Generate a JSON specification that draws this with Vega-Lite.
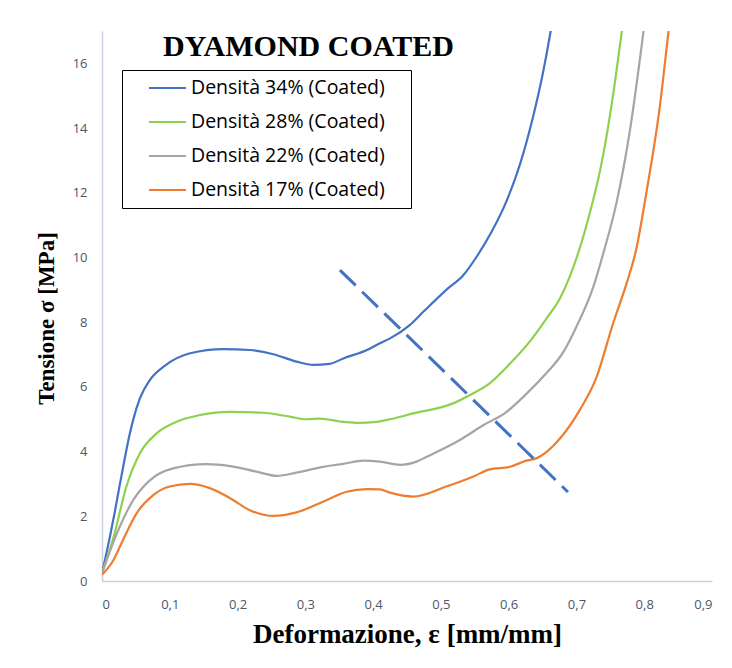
{
  "$schema": "https://vega.github.io/schema/vega-lite/v6.json",
  "width": 610,
  "height": 550,
  "autosize": {"type": "none"},
  "padding": {"left": 102, "top": 31, "right": 20, "bottom": 87},
  "background": "white",
  "config": {"view": {"stroke": null}, "legend": {"strokeWidth": 1}},
  "title": {
    "text": "DYAMOND COATED",
    "anchor": "start",
    "frame": "group",
    "dx": 61,
    "dy": 31,
    "offset": 0,
    "font": "Liberation Serif",
    "fontSize": 30,
    "fontWeight": "bold",
    "color": "#000000"
  },
  "datasets": {
    "curves": [
      {"serie": "Densità 34% (Coated)", "x": 0, "y": 0.24},
      {"serie": "Densità 34% (Coated)", "x": 0.0044, "y": 0.65},
      {"serie": "Densità 34% (Coated)", "x": 0.012, "y": 1.4},
      {"serie": "Densità 34% (Coated)", "x": 0.019, "y": 2.15},
      {"serie": "Densità 34% (Coated)", "x": 0.026, "y": 2.95},
      {"serie": "Densità 34% (Coated)", "x": 0.031, "y": 3.5},
      {"serie": "Densità 34% (Coated)", "x": 0.036, "y": 4.05},
      {"serie": "Densità 34% (Coated)", "x": 0.041, "y": 4.55},
      {"serie": "Densità 34% (Coated)", "x": 0.046, "y": 4.98},
      {"serie": "Densità 34% (Coated)", "x": 0.056, "y": 5.65},
      {"serie": "Densità 34% (Coated)", "x": 0.0708, "y": 6.22},
      {"serie": "Densità 34% (Coated)", "x": 0.093, "y": 6.66},
      {"serie": "Densità 34% (Coated)", "x": 0.13, "y": 7.04},
      {"serie": "Densità 34% (Coated)", "x": 0.179, "y": 7.17},
      {"serie": "Densità 34% (Coated)", "x": 0.218, "y": 7.14},
      {"serie": "Densità 34% (Coated)", "x": 0.253, "y": 7.01},
      {"serie": "Densità 34% (Coated)", "x": 0.287, "y": 6.78},
      {"serie": "Densità 34% (Coated)", "x": 0.312, "y": 6.68},
      {"serie": "Densità 34% (Coated)", "x": 0.336, "y": 6.71},
      {"serie": "Densità 34% (Coated)", "x": 0.356, "y": 6.88},
      {"serie": "Densità 34% (Coated)", "x": 0.391, "y": 7.14},
      {"serie": "Densità 34% (Coated)", "x": 0.41, "y": 7.35},
      {"serie": "Densità 34% (Coated)", "x": 0.425, "y": 7.5},
      {"serie": "Densità 34% (Coated)", "x": 0.454, "y": 7.91},
      {"serie": "Densità 34% (Coated)", "x": 0.474, "y": 8.32},
      {"serie": "Densità 34% (Coated)", "x": 0.508, "y": 9.0},
      {"serie": "Densità 34% (Coated)", "x": 0.533, "y": 9.45},
      {"serie": "Densità 34% (Coated)", "x": 0.553, "y": 10.03},
      {"serie": "Densità 34% (Coated)", "x": 0.575, "y": 10.8},
      {"serie": "Densità 34% (Coated)", "x": 0.597, "y": 11.75},
      {"serie": "Densità 34% (Coated)", "x": 0.617, "y": 12.9},
      {"serie": "Densità 34% (Coated)", "x": 0.636, "y": 14.35},
      {"serie": "Densità 34% (Coated)", "x": 0.651, "y": 15.75},
      {"serie": "Densità 34% (Coated)", "x": 0.662, "y": 17.0},
      {"serie": "Densità 34% (Coated)", "x": 0.67, "y": 18.0},
      {"serie": "Densità 28% (Coated)", "x": 0, "y": 0.24},
      {"serie": "Densità 28% (Coated)", "x": 0.017, "y": 1.35},
      {"serie": "Densità 28% (Coated)", "x": 0.036, "y": 2.92},
      {"serie": "Densità 28% (Coated)", "x": 0.056, "y": 3.95},
      {"serie": "Densità 28% (Coated)", "x": 0.081, "y": 4.57},
      {"serie": "Densità 28% (Coated)", "x": 0.11, "y": 4.92},
      {"serie": "Densità 28% (Coated)", "x": 0.145, "y": 5.13},
      {"serie": "Densità 28% (Coated)", "x": 0.189, "y": 5.23},
      {"serie": "Densità 28% (Coated)", "x": 0.238, "y": 5.2},
      {"serie": "Densità 28% (Coated)", "x": 0.277, "y": 5.08},
      {"serie": "Densità 28% (Coated)", "x": 0.302, "y": 5.0},
      {"serie": "Densità 28% (Coated)", "x": 0.322, "y": 5.02},
      {"serie": "Densità 28% (Coated)", "x": 0.351, "y": 4.93},
      {"serie": "Densità 28% (Coated)", "x": 0.376, "y": 4.89},
      {"serie": "Densità 28% (Coated)", "x": 0.405, "y": 4.92},
      {"serie": "Densità 28% (Coated)", "x": 0.425, "y": 5.0},
      {"serie": "Densità 28% (Coated)", "x": 0.459, "y": 5.18},
      {"serie": "Densità 28% (Coated)", "x": 0.518, "y": 5.49},
      {"serie": "Densità 28% (Coated)", "x": 0.543, "y": 5.75},
      {"serie": "Densità 28% (Coated)", "x": 0.572, "y": 6.11},
      {"serie": "Densità 28% (Coated)", "x": 0.607, "y": 6.83},
      {"serie": "Densità 28% (Coated)", "x": 0.631, "y": 7.4},
      {"serie": "Densità 28% (Coated)", "x": 0.656, "y": 8.12},
      {"serie": "Densità 28% (Coated)", "x": 0.676, "y": 8.75},
      {"serie": "Densità 28% (Coated)", "x": 0.69, "y": 9.4},
      {"serie": "Densità 28% (Coated)", "x": 0.704, "y": 10.23},
      {"serie": "Densità 28% (Coated)", "x": 0.72, "y": 11.4},
      {"serie": "Densità 28% (Coated)", "x": 0.735, "y": 12.7},
      {"serie": "Densità 28% (Coated)", "x": 0.748, "y": 14.2},
      {"serie": "Densità 28% (Coated)", "x": 0.758, "y": 15.6},
      {"serie": "Densità 28% (Coated)", "x": 0.767, "y": 17.0},
      {"serie": "Densità 28% (Coated)", "x": 0.773, "y": 18.0},
      {"serie": "Densità 22% (Coated)", "x": 0, "y": 0.24},
      {"serie": "Densità 22% (Coated)", "x": 0.022, "y": 1.47},
      {"serie": "Densità 22% (Coated)", "x": 0.046, "y": 2.5},
      {"serie": "Densità 22% (Coated)", "x": 0.071, "y": 3.12},
      {"serie": "Densità 22% (Coated)", "x": 0.105, "y": 3.48},
      {"serie": "Densità 22% (Coated)", "x": 0.154, "y": 3.61},
      {"serie": "Densità 22% (Coated)", "x": 0.189, "y": 3.55},
      {"serie": "Densità 22% (Coated)", "x": 0.228, "y": 3.38},
      {"serie": "Densità 22% (Coated)", "x": 0.258, "y": 3.25},
      {"serie": "Densità 22% (Coated)", "x": 0.287, "y": 3.35},
      {"serie": "Densità 22% (Coated)", "x": 0.326, "y": 3.53},
      {"serie": "Densità 22% (Coated)", "x": 0.356, "y": 3.62},
      {"serie": "Densità 22% (Coated)", "x": 0.386, "y": 3.72},
      {"serie": "Densità 22% (Coated)", "x": 0.41, "y": 3.69},
      {"serie": "Densità 22% (Coated)", "x": 0.44, "y": 3.59},
      {"serie": "Densità 22% (Coated)", "x": 0.464, "y": 3.69},
      {"serie": "Densità 22% (Coated)", "x": 0.479, "y": 3.84},
      {"serie": "Densità 22% (Coated)", "x": 0.528, "y": 4.36},
      {"serie": "Densità 22% (Coated)", "x": 0.563, "y": 4.82},
      {"serie": "Densità 22% (Coated)", "x": 0.597, "y": 5.23},
      {"serie": "Densità 22% (Coated)", "x": 0.622, "y": 5.7},
      {"serie": "Densità 22% (Coated)", "x": 0.651, "y": 6.32},
      {"serie": "Densità 22% (Coated)", "x": 0.681, "y": 7.09},
      {"serie": "Densità 22% (Coated)", "x": 0.7, "y": 7.86},
      {"serie": "Densità 22% (Coated)", "x": 0.725, "y": 9.1},
      {"serie": "Densità 22% (Coated)", "x": 0.741, "y": 10.23},
      {"serie": "Densità 22% (Coated)", "x": 0.759, "y": 11.68},
      {"serie": "Densità 22% (Coated)", "x": 0.779, "y": 13.94},
      {"serie": "Densità 22% (Coated)", "x": 0.799, "y": 17.0},
      {"serie": "Densità 22% (Coated)", "x": 0.805, "y": 18.0},
      {"serie": "Densità 17% (Coated)", "x": 0, "y": 0.19},
      {"serie": "Densità 17% (Coated)", "x": 0.017, "y": 0.65},
      {"serie": "Densità 17% (Coated)", "x": 0.031, "y": 1.27},
      {"serie": "Densità 17% (Coated)", "x": 0.051, "y": 2.09},
      {"serie": "Densità 17% (Coated)", "x": 0.076, "y": 2.66},
      {"serie": "Densità 17% (Coated)", "x": 0.1, "y": 2.92},
      {"serie": "Densità 17% (Coated)", "x": 0.13, "y": 3.0},
      {"serie": "Densità 17% (Coated)", "x": 0.159, "y": 2.87},
      {"serie": "Densità 17% (Coated)", "x": 0.189, "y": 2.56},
      {"serie": "Densità 17% (Coated)", "x": 0.218, "y": 2.19},
      {"serie": "Densità 17% (Coated)", "x": 0.253, "y": 2.01},
      {"serie": "Densità 17% (Coated)", "x": 0.287, "y": 2.12},
      {"serie": "Densità 17% (Coated)", "x": 0.326, "y": 2.45},
      {"serie": "Densità 17% (Coated)", "x": 0.361, "y": 2.76},
      {"serie": "Densità 17% (Coated)", "x": 0.391, "y": 2.84},
      {"serie": "Densità 17% (Coated)", "x": 0.41, "y": 2.83},
      {"serie": "Densità 17% (Coated)", "x": 0.425, "y": 2.73},
      {"serie": "Densità 17% (Coated)", "x": 0.459, "y": 2.61},
      {"serie": "Densità 17% (Coated)", "x": 0.508, "y": 2.92},
      {"serie": "Densità 17% (Coated)", "x": 0.548, "y": 3.23},
      {"serie": "Densità 17% (Coated)", "x": 0.572, "y": 3.45},
      {"serie": "Densità 17% (Coated)", "x": 0.602, "y": 3.53},
      {"serie": "Densità 17% (Coated)", "x": 0.626, "y": 3.72},
      {"serie": "Densità 17% (Coated)", "x": 0.641, "y": 3.79},
      {"serie": "Densità 17% (Coated)", "x": 0.676, "y": 4.41},
      {"serie": "Densità 17% (Coated)", "x": 0.705, "y": 5.29},
      {"serie": "Densità 17% (Coated)", "x": 0.73, "y": 6.32},
      {"serie": "Densità 17% (Coated)", "x": 0.754, "y": 7.96},
      {"serie": "Densità 17% (Coated)", "x": 0.774, "y": 9.2},
      {"serie": "Densità 17% (Coated)", "x": 0.788, "y": 10.23},
      {"serie": "Densità 17% (Coated)", "x": 0.803, "y": 11.98},
      {"serie": "Densità 17% (Coated)", "x": 0.823, "y": 14.66},
      {"serie": "Densità 17% (Coated)", "x": 0.836, "y": 17.0},
      {"serie": "Densità 17% (Coated)", "x": 0.842, "y": 18.0}
    ],
    "trend": [
      {"x": 0.351, "y": 9.61},
      {"x": 0.6875, "y": 2.75}
    ]
  },
  "layer": [
    {
      "data": {"name": "curves"},
      "mark": {"type": "line", "interpolate": "monotone", "strokeWidth": 2.2, "clip": true},
      "encoding": {
        "x": {
          "field": "x",
          "type": "quantitative",
          "scale": {"domain": [0, 0.9], "nice": false},
          "axis": {
            "values": [0, 0.1, 0.2, 0.3, 0.4, 0.5, 0.6, 0.7, 0.8, 0.9],
            "labelExpr": "replace(format(datum.value, '~g'), '.', ',')",
            "grid": false,
            "ticks": false,
            "domainColor": "#c6cfdc",
            "domainWidth": 1.5,
            "labelFont": "Open Sans",
            "labelFontSize": 13,
            "labelColor": "#4d5766",
            "labelPadding": 17,
            "title": "Deformazione, ɛ [mm/mm]",
            "titleFont": "Liberation Serif",
            "titleFontSize": 27,
            "titleFontWeight": "bold",
            "titleColor": "#000000",
            "titlePadding": 10
          }
        },
        "y": {
          "field": "y",
          "type": "quantitative",
          "scale": {"domain": [0, 17], "nice": false},
          "axis": {
            "values": [0, 2, 4, 6, 8, 10, 12, 14, 16],
            "grid": false,
            "ticks": false,
            "domainColor": "#c6cfdc",
            "domainWidth": 1.5,
            "labelFont": "Open Sans",
            "labelFontSize": 13,
            "labelColor": "#4d5766",
            "labelPadding": 15,
            "title": "Tensione σ [MPa]",
            "titleFont": "Liberation Serif",
            "titleFontSize": 23,
            "titleFontWeight": "bold",
            "titleColor": "#000000",
            "titlePadding": 14,
            "titleY": 287
          }
        },
        "color": {
          "field": "serie",
          "type": "nominal",
          "sort": ["Densità 34% (Coated)", "Densità 28% (Coated)", "Densità 22% (Coated)", "Densità 17% (Coated)"],
          "scale": {
            "domain": ["Densità 34% (Coated)", "Densità 28% (Coated)", "Densità 22% (Coated)", "Densità 17% (Coated)"],
            "range": ["#4472c4", "#8fd14f", "#a5a5a5", "#ed7d31"]
          },
          "legend": {
            "title": " ",
            "titleOrient": "right",
            "titlePadding": 18,
            "titleFontSize": 8,
            "orient": "none",
            "legendX": 20,
            "legendY": 39,
            "direction": "vertical",
            "strokeColor": "#000000",
            "fillColor": "#ffffff",
            "padding": 8,
            "symbolType": "stroke",
            "symbolSize": 1369,
            "symbolStrokeWidth": 2,
            "symbolOffset": 18,
            "clipHeight": 20,
            "rowPadding": 14,
            "labelOffset": 4,
            "labelFont": "Open Sans",
            "labelFontSize": 19.5,
            "labelColor": "#000000",
            "labelLimit": 400
          }
        }
      }
    },
    {
      "data": {"name": "trend"},
      "mark": {"type": "line", "color": "#4472c4", "strokeWidth": 3, "strokeDash": [22, 9]},
      "encoding": {
        "x": {"field": "x", "type": "quantitative"},
        "y": {"field": "y", "type": "quantitative"}
      }
    }
  ]
}
